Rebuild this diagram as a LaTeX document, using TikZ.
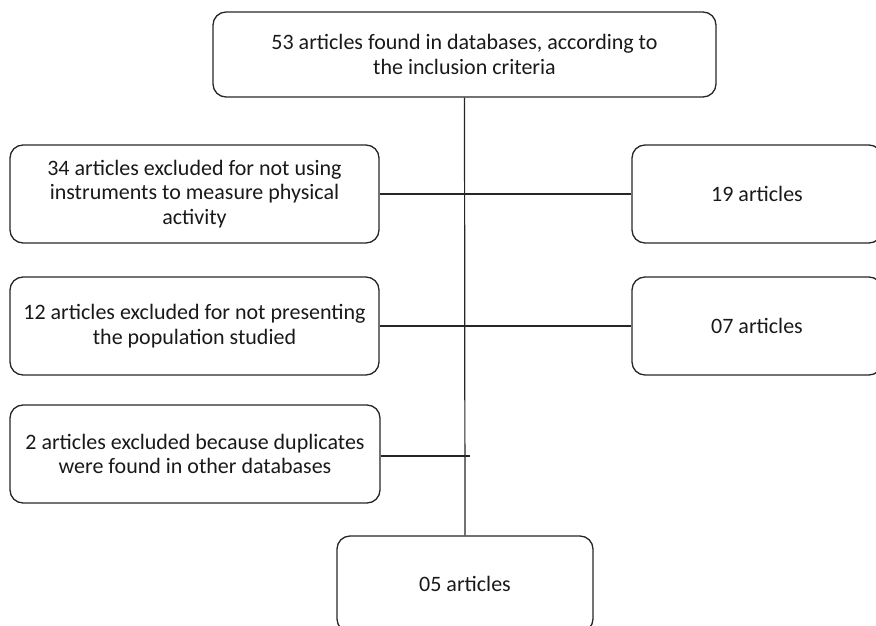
\documentclass[tikz,border=0pt]{standalone}
\usepackage{fontspec}
\setmainfont{Carlito}
\begin{document}
\begin{tikzpicture}[x=1pt,y=-1pt,
  boxstyle/.style={draw=black!85,line width=1.3pt,rounded corners=13pt,align=center,
    inner sep=0pt,font=\fontsize{22}{24.5}\selectfont,text=black!90},
  conn/.style={draw=black!85,line width=1.2pt}]
\useasboundingbox (0,0) rectangle (876,626);
\node[boxstyle,minimum width=503pt,minimum height=85pt] (top) at (464.5,54.5)
  {53 articles found in databases, according to\\the inclusion criteria};
\node[boxstyle,minimum width=369pt,minimum height=98pt] (l1) at (194.5,194)
  {34 articles excluded for not using\\instruments to measure physical\\activity};
\node[boxstyle,minimum width=369pt,minimum height=98pt] (l2) at (194.5,326)
  {12 articles excluded for not presenting\\the population studied};
\node[boxstyle,minimum width=370pt,minimum height=98pt] (l3) at (195,454)
  {2 articles excluded because duplicates\\were found in other databases};
\node[boxstyle,minimum width=250pt,minimum height=98pt] (r1) at (757,194) {19 articles};
\node[boxstyle,minimum width=250pt,minimum height=98pt] (r2) at (757,326) {07 articles};
\node[boxstyle,minimum width=256pt,minimum height=96pt] (bot) at (465,584) {05 articles};
\coordinate (j3) at (470,456);
\draw[conn] (top.south) -- (bot.north);
\draw[conn] (l1.east) -- (r1.west);
\draw[conn] (l2.east) -- (r2.west);
\draw[conn] (l3.east |- j3) -- (j3);
\end{tikzpicture}
\end{document}
